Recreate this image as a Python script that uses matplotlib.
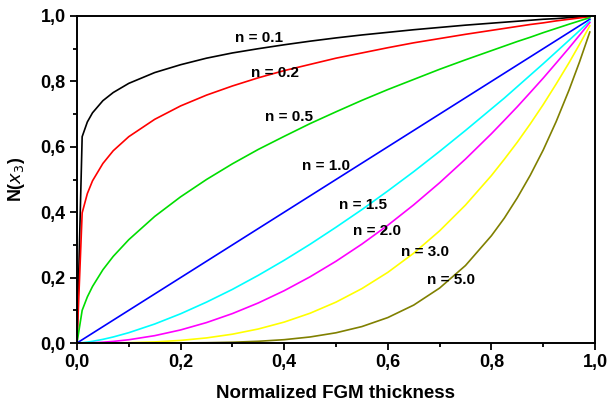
import matplotlib
matplotlib.use("Agg")
import matplotlib.pyplot as plt
from matplotlib.ticker import FixedLocator, FuncFormatter

plt.rcParams['font.family'] = ['Liberation Sans', 'DejaVu Sans']

# thickness positions
x = [0, 0.01, 0.02, 0.03, 0.05, 0.07, 0.1, 0.15, 0.2, 0.25, 0.3, 0.35, 0.4,
     0.45, 0.5, 0.55, 0.6, 0.65, 0.7, 0.75, 0.8, 0.825, 0.85, 0.875, 0.9, 0.925, 0.95, 0.97, 0.99]

n01 = [0, 0.631, 0.676, 0.704, 0.741, 0.766, 0.794, 0.827, 0.851, 0.871, 0.887, 0.900, 0.912,
       0.923, 0.933, 0.942, 0.950, 0.958, 0.965, 0.972, 0.978, 0.981, 0.984, 0.987, 0.990, 0.992, 0.995, 0.997, 0.999]
n02 = [0, 0.398, 0.457, 0.496, 0.549, 0.588, 0.631, 0.684, 0.725, 0.758, 0.786, 0.811, 0.833,
       0.852, 0.871, 0.887, 0.903, 0.918, 0.931, 0.944, 0.956, 0.962, 0.968, 0.974, 0.979, 0.985, 0.990, 0.994, 0.998]
n05 = [0, 0.100, 0.141, 0.173, 0.224, 0.265, 0.316, 0.387, 0.447, 0.500, 0.548, 0.592, 0.632,
       0.671, 0.707, 0.742, 0.775, 0.806, 0.837, 0.866, 0.894, 0.908, 0.922, 0.935, 0.949, 0.962, 0.975, 0.985, 0.995]
n10 = [0, 0.01, 0.02, 0.03, 0.05, 0.07, 0.1, 0.15, 0.2, 0.25, 0.3, 0.35, 0.4,
       0.45, 0.5, 0.55, 0.6, 0.65, 0.7, 0.75, 0.8, 0.825, 0.85, 0.875, 0.9, 0.925, 0.95, 0.97, 0.99]
n15 = [0, 0.001, 0.0028, 0.0052, 0.0112, 0.0185, 0.0316, 0.0581, 0.0894, 0.125, 0.164, 0.207, 0.253,
       0.302, 0.354, 0.408, 0.465, 0.524, 0.586, 0.650, 0.716, 0.749, 0.784, 0.819, 0.854, 0.890, 0.926, 0.955, 0.985]
n20 = [0, 0.0001, 0.0004, 0.0009, 0.0025, 0.0049, 0.01, 0.0225, 0.04, 0.0625, 0.09, 0.1225, 0.16,
       0.2025, 0.25, 0.3025, 0.36, 0.4225, 0.49, 0.5625, 0.64, 0.681, 0.7225, 0.766, 0.81, 0.856, 0.9025, 0.941, 0.980]
n30 = [0, 0, 0, 0, 0.0001, 0.0003, 0.001, 0.0034, 0.008, 0.0156, 0.027, 0.0429, 0.064,
       0.0911, 0.125, 0.1664, 0.216, 0.2746, 0.343, 0.4219, 0.512, 0.562, 0.6141, 0.670, 0.729, 0.792, 0.8574, 0.913, 0.970]
n50 = [0, 0, 0, 0, 0, 0, 0.00001, 0.0001, 0.0003, 0.001, 0.0024, 0.0053, 0.0102,
       0.0185, 0.0313, 0.0503, 0.0778, 0.116, 0.168, 0.237, 0.328, 0.382, 0.444, 0.513, 0.590, 0.677, 0.774, 0.859, 0.951]

series = [n01, n02, n05, n10, n15, n20, n30, n50]
labels = ['n = 0.1', 'n = 0.2', 'n = 0.5', 'n = 1.0', 'n = 1.5', 'n = 2.0', 'n = 3.0', 'n = 5.0']
colors = ['black', 'red', '#00dd00', 'blue', 'cyan', 'magenta', 'yellow', '#808000']
# where the curve labels sit (data coords)
label_pos = [(0.351, 0.933), (0.382, 0.826), (0.409, 0.691), (0.481, 0.541),
             (0.552, 0.422), (0.579, 0.343), (0.672, 0.278), (0.722, 0.193)]

fig = plt.figure(figsize=(6.1, 4.07), dpi=100)
ax = fig.add_axes([0.1262, 0.1572, 0.8492, 0.8035])

for ys, c in zip(series, colors):
    ax.plot(x, ys, color=c, linewidth=1.2)

for (lx, ly), t in zip(label_pos, labels):
    ax.text(lx, ly, t, ha='center', va='center', fontsize=11, fontweight='bold')

ax.set_xlim(0, 1)
ax.set_ylim(0, 1)

major = [0, 0.2, 0.4, 0.6, 0.8, 1.0]
minor = [0.1, 0.3, 0.5, 0.7, 0.9]
for axis in (ax.xaxis, ax.yaxis):
    axis.set_major_locator(FixedLocator(major))
    axis.set_minor_locator(FixedLocator(minor))
    axis.set_major_formatter(FuncFormatter(lambda v, p: f"{v:.1f}".replace('.', ',')))

ax.tick_params(which='major', direction='out', length=5, width=1.3,
               labelsize=13, pad=3)
ax.tick_params(which='minor', direction='out', length=3, width=1.3)
for lab in ax.get_xticklabels() + ax.get_yticklabels():
    lab.set_fontweight('bold')

for s in ax.spines.values():
    s.set_linewidth(1.4)

ax.set_xlabel('Normalized FGM thickness', fontsize=13.5, fontweight='bold', labelpad=10)
ax.set_ylabel(r'N($\mathit{x}_3$)', fontsize=13, fontweight='bold', labelpad=10)

fig.savefig('out.png', dpi=100)
